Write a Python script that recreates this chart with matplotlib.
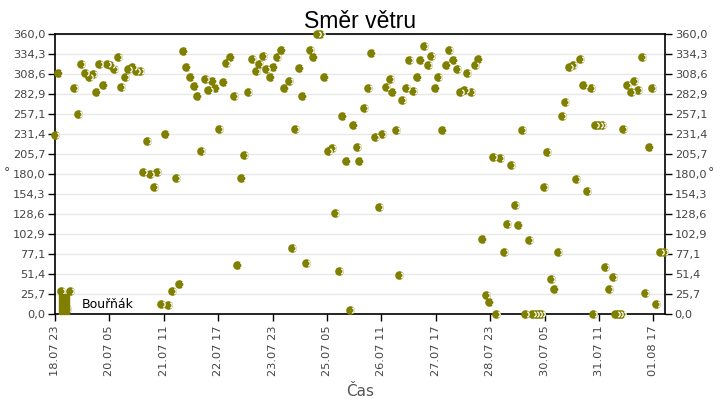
import numpy as np
import pandas as pd
import matplotlib
matplotlib.use("Agg")
from matplotlib import pyplot as plt
from matplotlib.lines import Line2D
from matplotlib.path import Path
from matplotlib.transforms import offset_copy

# hodiny od 18.07 23:00 a smer vetru ve stupnich
start = pd.Timestamp("2023-07-18 23:00")
hours = [0, 1.8, 3.3, 6.4, 8.3, 10.5, 12.5, 14.3, 16.5, 18.5,
         20.8, 22.8, 24.3, 26.6, 28.6, 30.6, 32.5, 34.6, 36.5, 38.6,
         40.1, 42.7, 44.5, 46.8, 48.4, 50.6, 52.4, 54.7, 56.0, 58.3,
         60.8, 62.4, 64.6, 66.7, 68.5, 70.7, 72.4, 74.6, 76.8, 78.5,
         80.6, 82.5, 84.5, 86.7, 88.5, 90.4, 92.8, 94.4, 96.7, 98.6,
         100.5, 102.7, 104.3, 106.5, 108.7, 110.6, 112.4, 114.6, 116.3, 118.7,
         120.4, 122.5, 124.8, 126.4, 128.8, 130.6, 132.3, 134.7, 136.4, 138.5,
         140.7, 142.4, 144.5, 146.4, 148.5, 150.6, 152.6, 154.5, 156.7, 158.4,
         160.6, 162.5, 164.5, 166.4, 167.9, 170.4, 172.7, 174.5, 176.3, 178.5,
         180.4, 182.6, 184.6, 186.0, 187.8, 189.6, 191.4, 193.6, 195.3, 197.5,
         199.8, 201.4, 203.6, 205.5, 207.4, 209.7, 211.3, 213.6, 215.8, 217.1,
         219.6, 221.5, 223.3, 225.7, 227.3, 229.5, 231.6, 233.4, 235.6, 237.5,
         239.5, 241.5, 243.2, 245.5, 247.7, 249.3, 251.4, 253.5, 255.5, 257.6,
         259.0, 261.5, 263.0, 264.7, 266.3, 268.1, 269.5, 271.4, 273.5, 275.3,
         277.5, 279.6, 281.2, 283.3, 285.5, 287.4, 289.6, 291.4, 293.4, 295.7,
         296.8, 297.8, 299.7, 301.6, 303.4, 305.6, 307.6, 309.0, 310.7, 312.4,
         313.3, 315.3, 317.4, 319.3, 321.6, 323.5, 325.3, 327.7, 329.3, 331.5,
         333.7, 335.8]
values = [230.5, 309.9, 29.6, 6.4, 29.6, 290.6, 257.1, 321.4, 309.9, 304.7,
          309.0, 285.4, 321.4, 294.4, 321.4, 320.1, 315.0, 330.4, 291.9, 304.7,
          315.0, 317.7, 312.8, 312.4, 182.6, 222.4, 180.0, 163.3, 182.6, 12.9,
          231.4, 11.6, 29.6, 174.9, 38.6, 338.1, 317.6, 304.7, 293.1, 280.3,
          209.6, 302.3, 288.0, 299.6, 290.6, 237.9, 298.3, 322.7, 330.4, 280.3,
          63.0, 174.9, 204.4, 285.4, 327.9, 312.6, 321.6, 331.7, 315.1, 304.7,
          317.7, 330.4, 339.4, 290.6, 299.6, 84.9, 237.9, 316.3, 280.3, 65.6,
          339.4, 330.4, 360.0, 360.0, 304.7, 209.6, 213.6, 129.9, 55.3, 254.6,
          196.7, 5.1, 243.0, 214.7, 196.7, 264.9, 290.6, 335.6, 227.6, 137.6,
          231.4, 291.9, 302.1, 285.5, 236.6, 50.1, 275.1, 290.6, 326.6, 286.7,
          304.7, 326.6, 344.6, 320.1, 331.7, 290.6, 304.7, 236.6, 320.1, 339.4,
          326.6, 315.1, 285.5, 288.1, 309.9, 285.5, 320.1, 327.6, 96.4, 24.4,
          15.4, 201.9, 0.0, 200.6, 79.7, 115.7, 191.6, 140.1, 114.4, 236.6,
          0.0, 95.1, 0.0, 0.0, 0.0, 0.0, 163.3, 208.3, 45.0, 32.1,
          79.7, 254.6, 272.7, 317.6, 320.1, 173.6, 327.9, 294.4, 158.1, 290.6,
          0.0, 243.0, 243.0, 243.0, 60.4, 32.1, 47.6, 0.0, 0.0, 0.0,
          237.9, 294.4, 285.4, 299.6, 288.0, 330.4, 27.0, 214.8, 290.6, 12.9,
          79.7, 79.7]
assert len(hours) == len(values)

series_name = "Bouřňák"
tick_step_h = 30
n_xticks = 12

times = start + pd.to_timedelta(hours, unit="h")
olive = "#808000"
grey = "#444444"

fig = plt.figure(figsize=(7.2, 4), dpi=100)
ax = fig.add_axes([55 / 720, 86 / 400, 610 / 720, 280 / 400])

ax.plot(times, values, linestyle="none", marker="o", ms=6.2,
        mfc=olive, mec=olive, mew=0, clip_on=False, zorder=3)
arc = Path.arc(-75, 75)
shift = offset_copy(ax.transData, fig=fig, x=1.3, y=0, units="dots")
ax.plot(times, values, linestyle="none", marker=arc, ms=3.8,
        mfc="none", mec="white", mew=0.9, clip_on=False, zorder=4,
        transform=shift)

ax.set_ylim(0, 360)
ax.set_xlim(start, start + pd.Timedelta(hours=336.4))

yt = np.linspace(0, 360, 15)
ax.set_yticks(yt)
ylabels = [f"{v:.1f}".replace(".", ",") for v in yt]
ax.set_yticklabels(ylabels)
ax.tick_params(axis="y", which="both", labelright=True, right=True,
               direction="out", length=5, width=1, colors="black",
               labelcolor=grey, labelsize=8.2, pad=2)

xt = [start + pd.Timedelta(hours=tick_step_h * k) for k in range(n_xticks)]
ax.set_xticks(xt)
ax.set_xticklabels([t.strftime("%d.%m %H") for t in xt], rotation=90)
ax.tick_params(axis="x", direction="out", length=5, width=1,
               labelcolor=grey, labelsize=8.2, pad=3)

ax.grid(axis="y", color="#e8e8e8", linewidth=1)
ax.set_axisbelow(True)
for s in ax.spines.values():
    s.set_linewidth(1.2)
    s.set_color("black")

ax.set_title("Směr větru", fontsize=16.5, family="Liberation Sans", pad=4)
ax.set_xlabel("Čas", fontsize=11, color="#555555", labelpad=6)
fig.text(4 / 720, 1 - 173 / 400, "°", fontsize=9, color=grey,
         ha="left", va="center")
fig.text(708 / 720, 1 - 173 / 400, "°", fontsize=9, color=grey,
         ha="left", va="center")

bar = [(-0.45, -1), (0.45, -1), (0.45, 1), (-0.45, 1), (-0.45, -1)]
handle = Line2D([], [], linestyle="none", marker=bar, ms=15,
                mfc=olive, mec=olive)
ax.legend([handle], [series_name], loc="lower left", frameon=False,
          fontsize=9, borderaxespad=0, borderpad=0.2, handlelength=1.0,
          handletextpad=0.95, bbox_to_anchor=(0.0, 0.0))

fig.savefig("out.png", dpi=100)
